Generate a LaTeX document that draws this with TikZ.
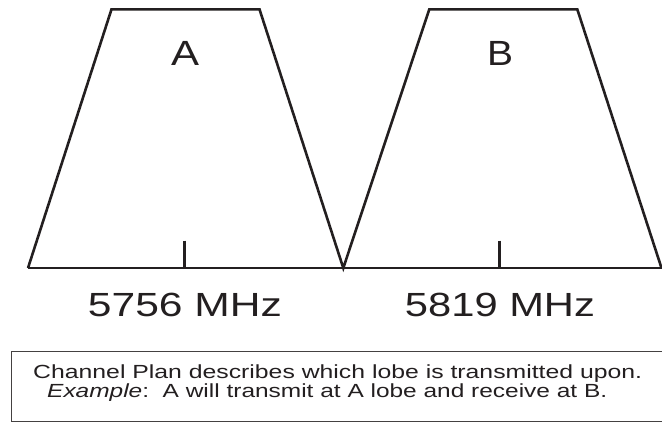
\documentclass[tikz,border=0pt]{standalone}
\usepackage{fontspec}
\setmainfont{Liberation Sans}
\usepackage{graphicx}
\definecolor{ink}{HTML}{231F20}
\tikzset{
  lobe/.style={draw=ink, line width=2.6pt, line join=miter},
  tickline/.style={draw=ink, line width=2.4pt},
  lobelabel/.style={anchor=base, inner sep=0pt, text=ink, font=\fontsize{35}{40}\selectfont},
  freqlabel/.style={anchor=base, inner sep=0pt, text=ink, font=\fontsize{33.5}{38}\selectfont},
  notetext/.style={anchor=base west, inner sep=0pt, text=ink, font=\fontsize{19}{22}\selectfont},
  notebox/.style={draw=ink!85, line width=1.6pt}
}
\begin{document}
\begin{tikzpicture}[x=1pt,y=-1pt]
\useasboundingbox (0,0) rectangle (662,423);
\fill[white] (0,0) rectangle (662,423);
% key points
\coordinate (aBL) at (28,268);
\coordinate (aTL) at (111.5,9.3);
\coordinate (aTR) at (259.5,9.3);
\coordinate (mid) at (343.3,268);
\coordinate (bTL) at (429.3,9.3);
\coordinate (bTR) at (577.3,9.3);
\coordinate (bBR) at (661.5,268);
\coordinate (baseR) at (664,268);
\coordinate (tickAtop) at (184.3,240.7);
\coordinate (tickAbot) at (184.3,268);
\coordinate (tickBtop) at (499.3,240.7);
\coordinate (tickBbot) at (499.3,268);
% lobes
\draw[lobe] (aBL) -- (aTL) -- (aTR) -- (mid) -- (bTL) -- (bTR) -- (bBR);
\draw[lobe] (aBL) -- (baseR);
\draw[tickline] (tickAtop) -- (tickAbot);
\draw[tickline] (tickBtop) -- (tickBbot);
% labels
\node[lobelabel] (la) at (185,65) {\resizebox{28pt}{\height}{A}};
\node[lobelabel] (lb) at (500,65) {\resizebox{26pt}{\height}{B}};
\node[freqlabel] (fa) at (185,316) {\resizebox{194pt}{\height}{5756 MHz}};
\node[freqlabel] (fb) at (500,316) {\resizebox{190pt}{\height}{5819 MHz}};
% note box
\draw[notebox] (11.5,351.5) rectangle (670,421.5);
\node[notetext] (n1) at (33,378.5) {\resizebox{609pt}{\height}{Channel Plan describes which lobe is transmitted upon.}};
\node[notetext] (n2) at (47,397.5) {\resizebox{560pt}{\height}{\textit{Example}:\ \ A will transmit at A lobe and receive at B.}};
\end{tikzpicture}
\end{document}
